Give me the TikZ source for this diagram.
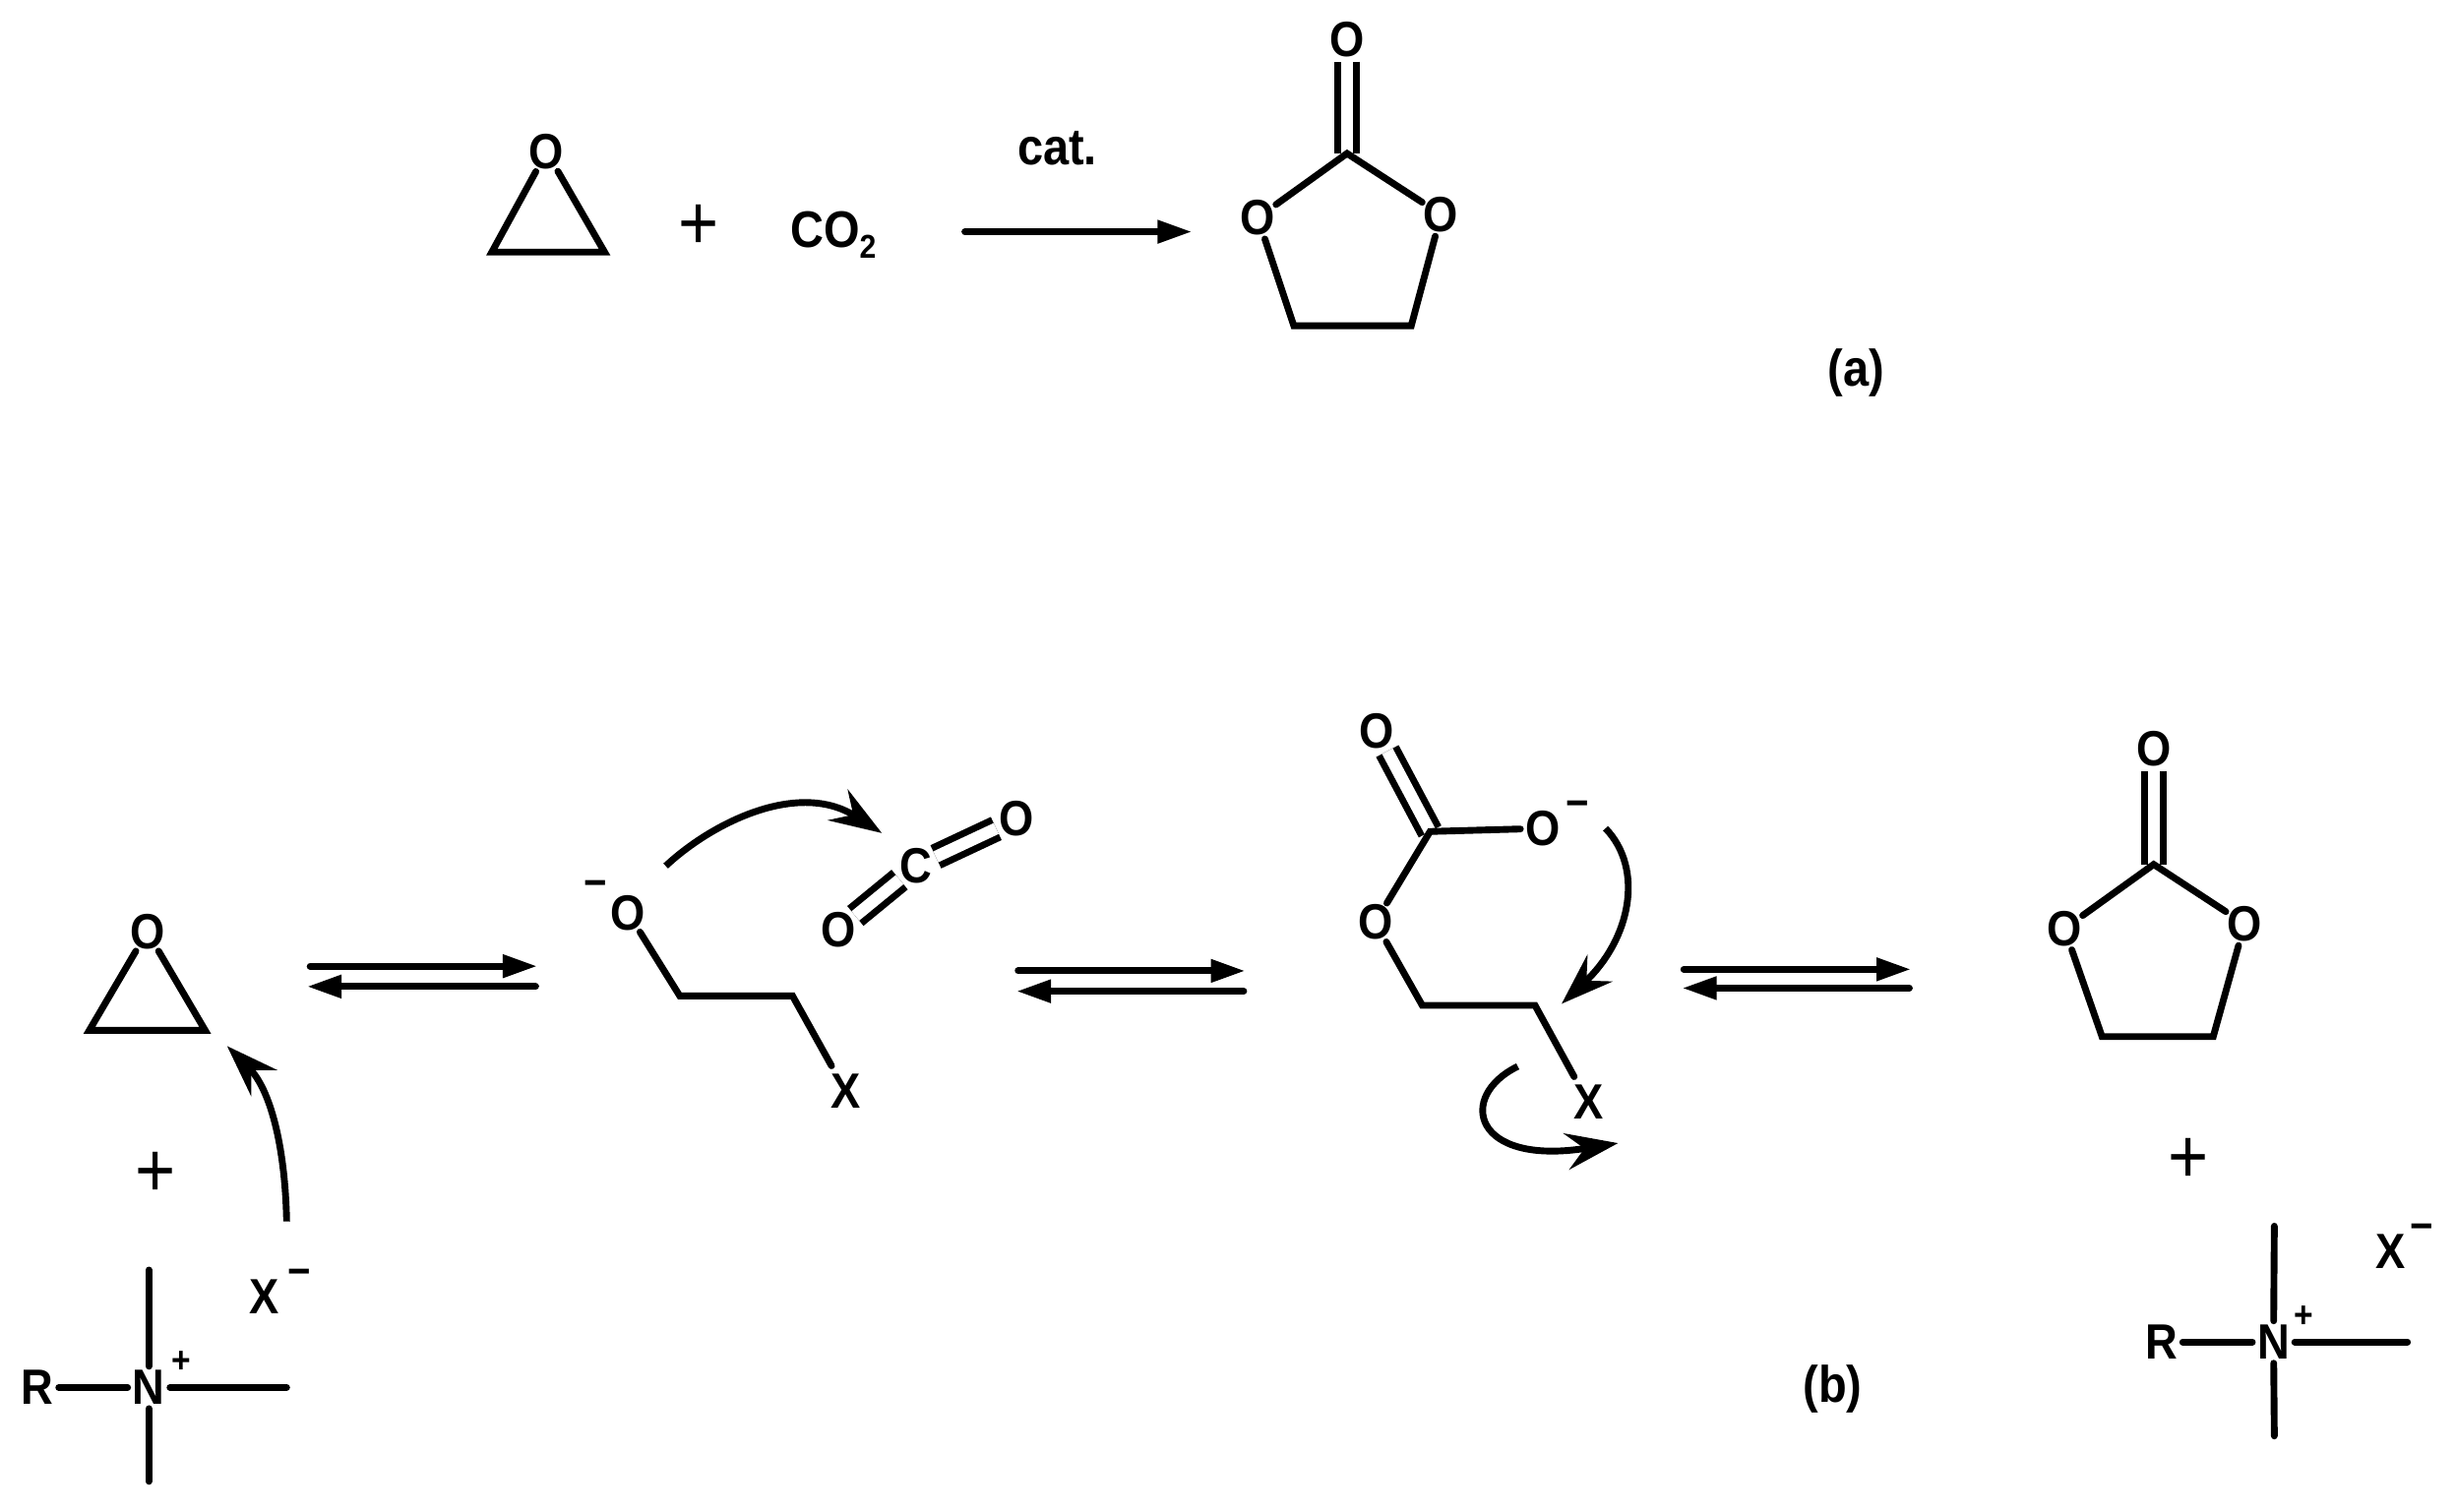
\documentclass[tikz,border=0pt]{standalone}
\usepackage{fontspec}
\setmainfont{Liberation Sans}[FakeStretch=0.9]
\usetikzlibrary{arrows.meta}
\tikzset{
  atom/.style={circle,inner sep=-1pt,font=\fontsize{27}{27}\selectfont\bfseries},
  xatom/.style={circle,inner sep=2.5pt,font=\fontsize{27}{27}\selectfont\bfseries},
  plain/.style={inner sep=0pt,font=\fontsize{27}{27}\selectfont\bfseries},
  labeltext/.style={inner sep=0pt,font=\fontsize{28}{28}\selectfont\bfseries},
  charge/.style={inner sep=0pt,font=\fontsize{24}{24}\selectfont\bfseries},
  smallplus/.style={inner sep=0pt,font=\fontsize{20}{20}\selectfont\bfseries},
  bigplus/.style={inner sep=0pt,font=\fontsize{42}{42}\selectfont},
  bond/.style={line width=0.13cm,line cap=round,line join=miter},
  dbond/.style={line width=0.13cm,double,double distance=0.23cm},
  rxn/.style={line width=0.13cm,line cap=round,-{Triangle[length=0.66cm,width=0.42cm]}},
  curly/.style={line width=0.13cm,-{Stealth[length=1cm,width=0.7cm,inset=0.35cm]}}
}
\begin{document}
\begin{tikzpicture}[x=0.03cm,y=-0.03cm]
\useasboundingbox (0,0) rectangle (1568,965);
% --- (a) ---
\node[atom] (aO) at (349,97) {O};
\coordinate (aL) at (314,161);
\coordinate (aR) at (386,161);
\draw[bond] (aO) -- (aL) -- (aR) -- (aO);
\node[bigplus] (aplus) at (446,145) {+};
\node[labeltext] (co2) at (532,150) {CO\raisebox{-0.22em}{\fontsize{18}{18}\selectfont 2}};
\coordinate (as) at (616,148);
\coordinate (ae) at (761,148);
\draw[rxn] (as) -- (ae);
\node[labeltext] (cat) at (675,95) {cat.};
\node[atom] (pO) at (860,25) {O};
\coordinate (pC) at (860,98);
\node[atom] (pOL) at (803,139) {O};
\node[atom] (pOR) at (920,137) {O};
\coordinate (pBL) at (826,208);
\coordinate (pBR) at (901,208);
\draw[dbond] (pO) -- (pC);
\draw[bond] (pOL) -- (pC) -- (pOR) -- (pBR) -- (pBL) -- (pOL);
\node[labeltext] (la) at (1185,238) {(a)};
% --- (b) epoxide ---
\node[atom] (bO) at (94,595) {O};
\coordinate (bL) at (57,658);
\coordinate (bR) at (131,658);
\draw[bond] (bO) -- (bL) -- (bR) -- (bO);
\node[bigplus] (bplus) at (99,750) {+};
% equilibria
\coordinate (e1a) at (198,617); \coordinate (e1b) at (343,617);
\coordinate (e1c) at (342,630); \coordinate (e1d) at (196,630);
\draw[rxn] (e1a) -- (e1b);
\draw[rxn] (e1c) -- (e1d);
\coordinate (e2a) at (650,620); \coordinate (e2b) at (795,620);
\coordinate (e2c) at (794,633); \coordinate (e2d) at (649,633);
\draw[rxn] (e2a) -- (e2b);
\draw[rxn] (e2c) -- (e2d);
\coordinate (e3a) at (1075,619); \coordinate (e3b) at (1220,619);
\coordinate (e3c) at (1219,631); \coordinate (e3d) at (1074,631);
\draw[rxn] (e3a) -- (e3b);
\draw[rxn] (e3c) -- (e3d);
% ammonium left
\node[atom] (N1) at (95,886) {N};
\node[atom] (R1) at (24,886) {R};
\coordinate (N1r) at (183,886);
\coordinate (N1u) at (95,811);
\coordinate (N1d) at (95,946);
\draw[bond] (R1) -- (N1);
\draw[bond] (N1) -- (N1r);
\draw[bond] (N1) -- (N1u);
\draw[bond] (N1) -- (N1d);
\node[smallplus] (N1p) at (116,870) {+};
\node[plain] (X1) at (169,828) {X};
\node[charge] (X1m) at (191,816) {−};
\coordinate (c1a) at (183,780);
\coordinate (c1b) at (145,668);
\draw[curly] (c1a) .. controls +(-1,-50) and +(27,27) .. (c1b);
% intermediate 1
\node[charge] (I1m) at (380,568) {−};
\node[atom] (I1O) at (401,583) {O};
\coordinate (I1a) at (434,636);
\coordinate (I1b) at (506,636);
\node[xatom] (I1X) at (540,697) {X};
\draw[bond] (I1O) -- (I1a) -- (I1b) -- (I1X);
\node[atom] (gO1) at (535,594) {O};
\node[atom] (gC) at (585,553) {C};
\node[atom] (gO2) at (649,523) {O};
\draw[dbond] (gO1) -- (gC);
\draw[dbond] (gC) -- (gO2);
\coordinate (c2a) at (425,553);
\coordinate (c2b) at (563,532);
\draw[curly] (c2a) .. controls +(30,-28) and +(-53,-34) .. (c2b);
% intermediate 2
\node[atom] (I2O1) at (879,467) {O};
\coordinate (I2C) at (913,531);
\node[atom] (I2O2) at (985,529) {O};
\node[charge] (I2m) at (1007,517) {−};
\node[atom] (I2O3) at (878,589) {O};
\coordinate (I2a) at (908,642);
\coordinate (I2b) at (980,642);
\node[xatom] (I2X) at (1014,704) {X};
\draw[dbond] (I2O1) -- (I2C);
\draw[bond] (I2O2) -- (I2C) -- (I2O3) -- (I2a) -- (I2b) -- (I2X);
\coordinate (c3a) at (1025,529);
\coordinate (c3b) at (997,641);
\draw[curly] (c3a) .. controls +(25,26) and +(44,-41) .. (c3b);
\coordinate (c4a) at (969,681);
\coordinate (c4b) at (1033,730);
\draw[curly] (c4a) .. controls +(-39,19) and +(-93,15) .. (c4b);
% product
\node[atom] (qO) at (1375,478) {O};
\coordinate (qC) at (1375,552);
\node[atom] (qOL) at (1318,593) {O};
\node[atom] (qOR) at (1433,590) {O};
\coordinate (qBL) at (1342,662);
\coordinate (qBR) at (1413,662);
\draw[dbond] (qO) -- (qC);
\draw[bond] (qOL) -- (qC) -- (qOR) -- (qBR) -- (qBL) -- (qOL);
\node[bigplus] (qplus) at (1397,741) {+};
% ammonium right
\node[atom] (N2) at (1451.5,857) {N};
\node[atom] (R2) at (1380,857) {R};
\coordinate (N2r) at (1537,857);
\coordinate (N2u) at (1452,783);
\coordinate (N2d) at (1452,917);
\draw[bond] (R2) -- (N2);
\draw[bond] (N2) -- (N2r);
\draw[bond] (N2) -- (N2u);
\draw[bond] (N2) -- (N2d);
\node[smallplus] (N2p) at (1471,841) {+};
\node[plain] (X2) at (1526,799) {X};
\node[charge] (X2m) at (1546,787) {−};
\node[labeltext] (lb) at (1170,887) {(b)};
\end{tikzpicture}
\end{document}
